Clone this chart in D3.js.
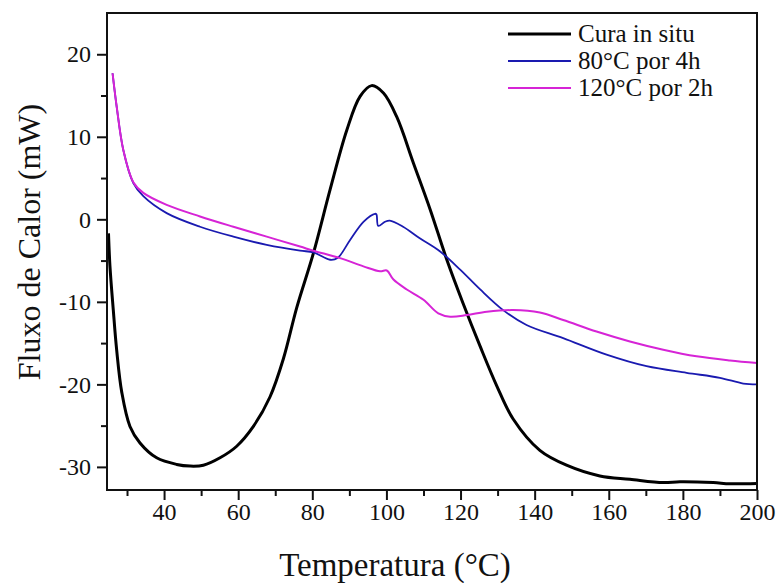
<!DOCTYPE html>
<html>
<head>
<meta charset="utf-8">
<script src="https://cdn.jsdelivr.net/npm/d3@7"></script>
<style>
    body { margin: 0; background: #fff; }
    svg text { font-family: "Liberation Serif", "Times New Roman", serif; fill: #111; }
</style>
</head>
<body>
<div id="chart"></div>
<script>
// curves: [temperature (°C), heat flow (mW)]
var curaInSitu = [
    [25.0, -1.7], [25.4, -5.7], [26.3, -11], [27.2, -15.8], [28.6, -21], [30.8, -25.1],
    [33.5, -27.1], [38, -28.9], [43.4, -29.7], [47, -29.9], [50.6, -29.8], [55.1, -28.9],
    [59.6, -27.5], [64.1, -25.1], [68.6, -21.5], [72.2, -16.9], [75.8, -10.7], [80.3, -4.1],
    [84.8, 3.6], [89.3, 10.8], [92.9, 14.9], [96.0, 16.2], [99.2, 15.3], [102.8, 12.4],
    [107.3, 6.8], [111.8, 1.2], [116.3, -4.9], [120.7, -10.2], [125.3, -15.4], [129.8, -20.2],
    [134.2, -24.2], [141.4, -28.0], [148.6, -29.8], [157.6, -31.1], [165.7, -31.5],
    [174.7, -31.9], [179.2, -31.8], [188.2, -31.9], [192.7, -32.05], [200, -32.0]
];
var cura80 = [
    [26.1, 17.7], [27.2, 13.7], [29, 8.4], [31.7, 4.4], [34.4, 2.8], [40.7, 0.75],
    [49.7, -0.9], [58.7, -2.1], [67.7, -3.1], [76.7, -3.8], [80.3, -4.0], [84.8, -4.9],
    [86.8, -4.7], [90.2, -2.5], [93.8, -0.3], [96.9, 0.67], [97.3, 0.6], [97.8, -0.8],
    [99.6, -0.3], [100.9, -0.15], [104.5, -0.9], [109, -2.3], [114.5, -3.9], [119.9, -6.1],
    [125.3, -8.5], [131.5, -11], [137.8, -12.8], [147.7, -14.4], [159.4, -16.4],
    [170.2, -17.8], [181, -18.6], [190, -19.2], [196.3, -19.9], [200, -20.0]
];
var cura120 = [
    [26.1, 17.7], [27.2, 13.7], [29, 8.4], [31.7, 4.5], [34.4, 3.2], [40.7, 1.75],
    [49.7, 0.35], [58.7, -0.9], [67.7, -2.1], [76.7, -3.3], [80.3, -3.8], [87.5, -4.7],
    [93.8, -5.7], [98.3, -6.3], [100.1, -6.2], [101.9, -7.3], [105.5, -8.5], [110, -9.75],
    [114, -11.4], [117.2, -11.8], [121.7, -11.6], [127.1, -11.2], [134.2, -11],
    [141.4, -11.3], [147.7, -12.2], [156.7, -13.6], [165.7, -14.8], [174.7, -15.8],
    [183.7, -16.6], [192.7, -17.1], [200, -17.4]
];

var seriesNames = ["Cura in situ", "80\u00B0C por 4h", "120\u00B0C por 2h"];
var seriesData = [curaInSitu, cura80, cura120];
var seriesColors = ["#000000", "#1a1ab0", "#d624d6"];
var seriesWidths = [3, 1.8, 2];

var xMajor = [40, 60, 80, 100, 120, 140, 160, 180, 200];
var xMinor = [30, 50, 70, 90, 110, 130, 150, 170, 190];
var yMajor = [-30, -20, -10, 0, 10, 20];
var yMinor = [-25, -15, -5, 5, 15];

var width = 781, height = 583;
var margin = {left: 107, right: 24, top: 13, bottom: 93};

var svg = d3.select("#chart").append("svg")
    .attr("width", width)
    .attr("height", height);

var x = d3.scaleLinear()
    .domain([24.6, 200])
    .range([margin.left, width - margin.right]);

var y = d3.scaleLinear()
    .domain([-32.8, 25])
    .range([height - margin.bottom, margin.top]);

// plain hyphen for negatives, like the original
var fmt = function(d) { return String(d); };

// minor ticks first, then the labelled ones on top
svg.append("g")
    .attr("transform", "translate(0," + (height - margin.bottom) + ")")
    .call(d3.axisBottom(x).tickValues(xMinor).tickSize(6).tickFormat(""))
    .call(function(g) { g.select(".domain").remove(); });

svg.append("g")
    .attr("transform", "translate(" + margin.left + ",0)")
    .call(d3.axisLeft(y).tickValues(yMinor).tickSize(6).tickFormat(""))
    .call(function(g) { g.select(".domain").remove(); });

var xAxis = svg.append("g")
    .attr("transform", "translate(0," + (height - margin.bottom) + ")")
    .call(d3.axisBottom(x).tickValues(xMajor).tickSize(10).tickPadding(3).tickFormat(fmt));

var yAxis = svg.append("g")
    .attr("transform", "translate(" + margin.left + ",0)")
    .call(d3.axisLeft(y).tickValues(yMajor).tickSize(10).tickPadding(6).tickFormat(fmt));

svg.selectAll(".tick line").attr("stroke", "#111").attr("stroke-width", 2);
xAxis.select(".domain").remove();
yAxis.select(".domain").remove();
svg.selectAll(".tick text")
    .attr("font-size", 24)
    .attr("font-family", "Liberation Serif, serif")
    .attr("fill", "#111");

// curves
var line = d3.line()
    .x(function(d) { return x(d[0]); })
    .y(function(d) { return y(d[1]); })
    .curve(d3.curveCatmullRom.alpha(0.5));

svg.append("g").selectAll("path")
    .data(seriesData)
    .enter().append("path")
    .attr("d", line)
    .attr("fill", "none")
    .attr("stroke", function(d, i) { return seriesColors[i]; })
    .attr("stroke-width", function(d, i) { return seriesWidths[i]; })
    .attr("stroke-linejoin", "round");

// frame
svg.append("rect")
    .attr("x", margin.left)
    .attr("y", margin.top)
    .attr("width", width - margin.left - margin.right)
    .attr("height", height - margin.top - margin.bottom)
    .attr("fill", "none")
    .attr("stroke", "#111")
    .attr("stroke-width", 2);

// legend
var legend = svg.append("g").attr("transform", "translate(508,34)");
var rows = legend.selectAll("g")
    .data(seriesNames)
    .enter().append("g")
    .attr("transform", function(d, i) { return "translate(0," + (i * 27) + ")"; });
rows.append("line")
    .attr("x1", 0).attr("x2", 63)
    .attr("stroke", function(d, i) { return seriesColors[i]; })
    .attr("stroke-width", function(d, i) { return seriesWidths[i]; });
rows.append("text")
    .attr("x", 70)
    .attr("y", 8)
    .attr("font-size", 25)
    .text(function(d) { return d; });

// axis titles
svg.append("text")
    .attr("text-anchor", "middle")
    .attr("x", 395)
    .attr("y", 576)
    .attr("font-size", 33)
    .text("Temperatura (\u00B0C)");

svg.append("text")
    .attr("text-anchor", "middle")
    .attr("transform", "translate(40,242)rotate(-90)")
    .attr("font-size", 32)
    .text("Fluxo de Calor (mW)");
</script>
</body>
</html>
